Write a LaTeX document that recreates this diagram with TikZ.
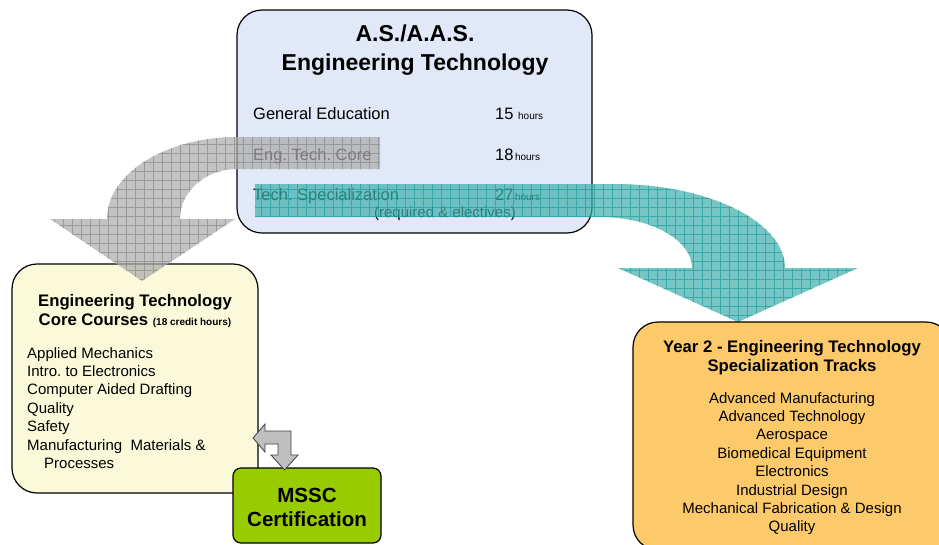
\documentclass[tikz,border=0pt]{standalone}
\usepackage{fontspec}
\setmainfont{Liberation Sans}
\usetikzlibrary{positioning}
\frenchspacing

\definecolor{asblue}{HTML}{E1E8F8}
\definecolor{coreyellow}{HTML}{FAFADA}
\definecolor{trackorange}{HTML}{FDCA6B}
\definecolor{msscgreen}{HTML}{99CC00}
\definecolor{arrowgray}{HTML}{ACACAC}
\definecolor{gridgray}{HTML}{808080}
\definecolor{arrowteal}{HTML}{42B0AE}
\definecolor{gridteal}{HTML}{12979A}

\newcommand{\hrs}{{\fontsize{10}{12}\selectfont hours}}

\begin{document}
\begin{tikzpicture}[x=1pt,y=-1pt,
  box/.style={draw=black,line width=1.2pt,rounded corners=25pt,inner sep=0pt},
  bigtitle/.style={font=\fontsize{23}{28}\selectfont\bfseries,inner sep=0pt,anchor=base},
  head/.style={font=\fontsize{16.7}{20}\selectfont\bfseries,inner sep=0pt,anchor=base},
  entry/.style={font=\fontsize{16.5}{20}\selectfont,inner sep=0pt,anchor=base west},
  course/.style={font=\fontsize{15}{18}\selectfont,inner sep=0pt,text height=11pt,text depth=3pt},
  track/.style={course},
  grayarrow/.style={fill=arrowgray,fill opacity=.72,
    path picture={\draw[gridgray,draw opacity=.6,line width=.45pt,step=9pt]
      (path picture bounding box.south west) grid (path picture bounding box.north east);}},
  tealarrow/.style={fill=arrowteal,fill opacity=.72,
    path picture={\draw[gridteal,draw opacity=.6,line width=.45pt,step=9pt]
      (path picture bounding box.south west) grid (path picture bounding box.north east);}}]

  \useasboundingbox (0,0) rectangle (939,544);
  \clip (0,0) rectangle (939,544);

  % degree box
  \node[box,fill=asblue,minimum width=355pt,minimum height=223pt] (asbox) at (414.5,121.5) {};
  \node[bigtitle] (as1) at (415,41) {A.S./A.A.S.};
  \node[bigtitle] (as2) at (415,70) {Engineering Technology};
  \node[entry] (gen)  at (253,119) {General Education};
  \node[entry] (etc)  at (253,160) {Eng. Tech. Core};
  \node[entry] (spec) at (253,200) {Tech. Specialization};
  \node[entry] (h15)  at (495,119) {15 \hrs};
  \node[entry] (h18)  at (495,160) {18\kern1.5pt\hrs};
  \node[entry] (h27)  at (495,200) {27\kern1.5pt\hrs};
  \node[font=\fontsize{15}{18}\selectfont,inner sep=0pt,anchor=base] (req) at (445,217) {(required \& electives)};

  % core courses
  \node[box,fill=coreyellow,minimum width=246pt,minimum height=229pt] (corebox) at (135,378.5) {};
  \node[head] (core1) at (135,306) {Engineering Technology};
  \node[head] (core2) at (135,325) {Core Courses {\fontsize{10}{12}\selectfont(18 credit hours)}};
  \node[course,anchor=base west] (c1) at (27,358) {Applied Mechanics};
  \node[course,below right=4pt and 0pt of c1.south west] (c2) {Intro. to Electronics};
  \node[course,below right=4pt and 0pt of c2.south west] (c3) {Computer Aided Drafting};
  \node[course,below right=4pt and 0pt of c3.south west] (c4) {Quality};
  \node[course,below right=4pt and 0pt of c4.south west] (c5) {Safety};
  \node[course,below right=4pt and 0pt of c5.south west] (c6) {Manufacturing\ \ Materials \&};
  \node[course,below right=4pt and 17pt of c6.south west] (c7) {Processes};

  % arrows out of the degree box
  \path[grayarrow] (380,137) -- (237,137) .. controls (165,137) and (107,174) .. (107,219)
    -- (50,219) -- (142,281) -- (235,219) -- (180,219)
    .. controls (180,191) and (206,169) .. (237,169) -- (380,169) -- cycle;
  \path[tealarrow] (255,184) -- (615,184) .. controls (709,184) and (785,222) .. (785,268)
    -- (858,268) -- (738,322) -- (618,268) -- (692,268)
    .. controls (692,240) and (651,217) .. (600,217) -- (255,217) -- cycle;

  % specialization tracks
  \node[box,fill=trackorange,minimum width=318pt,minimum height=228pt] (trackbox) at (792,436) {};
  \node[head] (trk1) at (792,352) {Year 2 - Engineering Technology};
  \node[head] (trk2) at (792,371) {Specialization Tracks};
  \node[track,anchor=base] (t1) at (792,403) {Advanced Manufacturing};
  \node[track,below=4pt of t1] (t2) {Advanced Technology};
  \node[track,below=4pt of t2] (t3) {Aerospace};
  \node[track,below=4pt of t3] (t4) {Biomedical Equipment};
  \node[track,below=4pt of t4] (t5) {Electronics};
  \node[track,below=4pt of t5] (t6) {Industrial Design};
  \node[track,below=4pt of t6] (t7) {Mechanical Fabrication \& Design};
  \node[track,below=4pt of t7] (t8) {Quality};

  % certification
  \node[box,rounded corners=8pt,fill=msscgreen,minimum width=148pt,minimum height=75pt] (mssc) at (307,505.5) {};
  \node[font=\fontsize{20.5}{24}\selectfont\bfseries,inner sep=0pt,anchor=base] (mssc1) at (307,502) {MSSC};
  \node[font=\fontsize{20.5}{24}\selectfont\bfseries,inner sep=0pt,anchor=base] (mssc2) at (307,526) {Certification};

  \draw[fill=black!25,draw=black!75,line width=.8pt] (253,438) -- (265,424) -- (265,431) -- (291,431)
    -- (291,455) -- (298,455) -- (284.5,470) -- (271,455) -- (278,455) -- (278,444)
    -- (265,444) -- (265,452) -- cycle;
\end{tikzpicture}
\end{document}
